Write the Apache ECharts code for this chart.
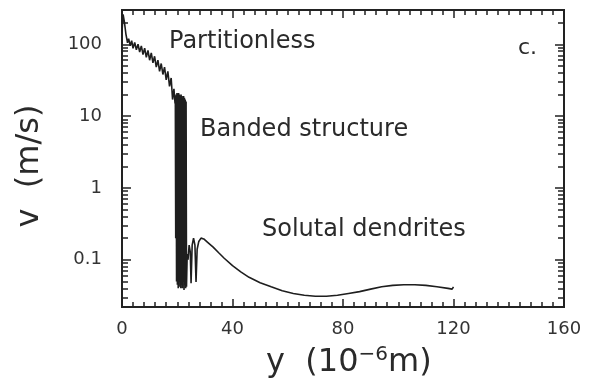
<!DOCTYPE html>
<html>
<head>
<meta charset="utf-8">
<script src="https://cdn.jsdelivr.net/npm/echarts@6/dist/echarts.min.js"></script>
<style>
  html, body { margin: 0; padding: 0; background: #fff; }
  #chart { width: 595px; height: 383px; }
</style>
</head>
<body>
<div id="chart"></div>
<script>
// distance from the chill surface (10^-6 m)
const depth = [
  0, 0.4, 0.9, 1.4, 2.0, 2.4, 3.0, 3.5, 4.0, 4.6, 5.2, 5.8, 6.4, 7.0, 7.6, 8.2,
  8.8, 9.4, 10.0, 10.6, 11.2, 11.8, 12.4, 13.0, 13.6, 14.2, 14.8, 15.4, 16.0,
  16.6, 17.2, 17.8, 18.3, 18.8, 19.2,
  19.3, 19.45, 19.6, 19.75, 19.9, 20.05, 20.2, 20.35, 20.5, 20.65, 20.8, 20.95,
  21.1, 21.25, 21.4, 21.55, 21.7, 21.85, 22.0, 22.15, 22.3, 22.45, 22.6, 22.75,
  22.9, 23.05, 23.2, 23.35,
  23.6, 23.9, 24.3, 24.7, 25.0, 25.4, 25.9, 26.4, 26.8, 27.2, 27.8, 28.6, 29.6,
  31, 33, 35, 37, 40, 43, 46, 50, 54, 58, 62, 66, 70, 74, 78, 82, 86, 90, 94,
  98, 102, 106, 110, 114, 118, 119.5, 120
];
// interface velocity (m/s)
const speed = [
  150, 260, 200, 140, 105, 120, 95, 112, 88, 106, 84, 100, 78, 95, 72, 88,
  66, 82, 60, 76, 55, 68, 48, 60, 42, 54, 38, 48, 32,
  42, 26, 34, 17, 24, 15,
  19, 0.2, 20, 0.05, 21, 0.045, 20, 0.04, 21, 0.05, 20, 0.042,
  19, 0.04, 20, 0.045, 19, 0.04, 18, 0.05, 19, 0.038, 18, 0.045,
  17, 0.04, 16, 0.042,
  0.12, 0.1, 0.16, 0.13, 0.047, 0.16, 0.2, 0.16, 0.049, 0.14, 0.18, 0.2, 0.195,
  0.175, 0.15, 0.125, 0.105, 0.083, 0.068, 0.057, 0.048, 0.042, 0.037, 0.034,
  0.032, 0.031, 0.031, 0.032, 0.034, 0.036, 0.039, 0.042, 0.044, 0.045, 0.045,
  0.044, 0.042, 0.040, 0.039, 0.042
];

// axis ranges and tick values
const xRange = [0, 160];
const xTickStep = 40;
const yRange = [0.022, 300];
const yMajorTicks = [0.1, 1, 10, 100];
const yMinorTicks = [
  0.03, 0.04, 0.05, 0.06, 0.07, 0.08, 0.09,
  0.2, 0.3, 0.4, 0.5, 0.6, 0.7, 0.8, 0.9,
  2, 3, 4, 5, 6, 7, 8, 9,
  20, 30, 40, 50, 60, 70, 80, 90,
  200
];

// region labels
const regionLabels = ['Partitionless', 'Banded structure', 'Solutal dendrites'];
const panelTag = 'c.';

const ink = '#222';
const textInk = '#2a2a2a';
const labelFont = 'DejaVu Sans';

const lineData = depth.map((d, i) => [d, speed[i]]);

function xAxisDef(pos, showLabels) {
  return {
    type: 'value', position: pos, min: xRange[0], max: xRange[1], interval: xTickStep,
    axisLine: { show: true, onZero: false, lineStyle: { color: ink, width: 2 } },
    axisTick: { show: true, inside: true, length: 8, lineStyle: { color: ink, width: 1.5 } },
    minorTick: { show: true, splitNumber: 10, length: 5, lineStyle: { color: ink, width: 1.5 } },
    axisLabel: { show: showLabels, color: '#333', fontFamily: labelFont, fontSize: 18, margin: 13 },
    splitLine: { show: false }, minorSplitLine: { show: false }
  };
}

function yAxisDef(pos, ticks, len, showLabels) {
  return {
    type: 'log', logBase: 10, position: pos, min: yRange[0], max: yRange[1],
    axisLine: { show: true, onZero: false, lineStyle: { color: ink, width: 2 } },
    axisTick: { show: true, inside: true, length: len, customValues: ticks,
      lineStyle: { color: ink, width: 1.5 } },
    axisLabel: { show: showLabels, customValues: yMajorTicks, color: '#333',
      fontFamily: labelFont, fontSize: 18, margin: 20,
      formatter: v => String(v) },
    splitLine: { show: false }
  };
}

function note(text, x, y) {
  return { type: 'text', x: x, y: y,
    style: { text: text, font: '24px "DejaVu Sans"', fill: textInk, verticalAlign: 'middle' } };
}

const chart = echarts.init(document.getElementById('chart'), null, { renderer: 'canvas' });

chart.setOption({
  backgroundColor: '#fff',
  animation: false,
  grid: { left: 122, right: 31, top: 10, bottom: 76 },
  xAxis: [xAxisDef('bottom', true), xAxisDef('top', false)],
  yAxis: [
    yAxisDef('left', yMajorTicks, 9, true),
    yAxisDef('left', yMinorTicks, 6, false),
    yAxisDef('right', yMajorTicks, 9, false),
    yAxisDef('right', yMinorTicks, 6, false)
  ],
  series: [{
    type: 'line',
    xAxisIndex: 0, yAxisIndex: 0,
    data: lineData,
    showSymbol: false,
    lineStyle: { color: '#1e1e1e', width: 1.6 },
    z: 3
  }],
  graphic: [
    note(regionLabels[0], 169, 42),
    note(regionLabels[1], 200, 130),
    note(regionLabels[2], 262, 230),
    { type: 'text', x: 518, y: 48,
      style: { text: panelTag, font: '22px "DejaVu Sans"', fill: textInk, verticalAlign: 'middle' } },
    { type: 'text', x: 266, y: 363,
      style: {
        text: 'y  (10{sup|−6}m)',
        font: '32px "DejaVu Sans"', fill: textInk, verticalAlign: 'middle',
        rich: { sup: { fontSize: 20, fontFamily: 'DejaVu Sans', verticalAlign: 'top', fill: textInk, padding: [0, 0, 16, 0] } }
      } },
    { type: 'text', x: 30, y: 166, rotation: Math.PI / 2,
      style: { text: 'v  (m/s)', font: '32px "DejaVu Sans"', fill: textInk,
        align: 'center', verticalAlign: 'middle' } }
  ]
});
</script>
</body>
</html>
